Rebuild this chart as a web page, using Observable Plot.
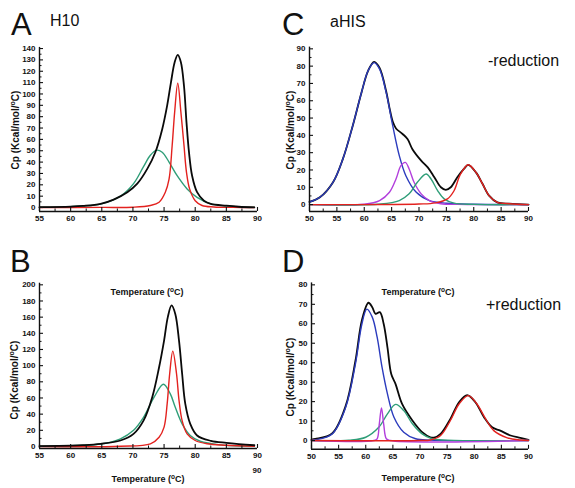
<!DOCTYPE html>
<html>
<head>
<meta charset="utf-8">
<script src="https://cdn.jsdelivr.net/npm/d3@7"></script>
<script src="https://cdn.jsdelivr.net/npm/@observablehq/plot@0.6"></script>
<style>
  html, body { margin: 0; padding: 0; background: #fff; }
  #wrap { position: relative; width: 575px; height: 488px; overflow: hidden; background: #fff; }
  #wrap svg { position: absolute; }
</style>
</head>
<body>
<div id="wrap"></div>
<script>
// ---------- DATA (Temperature °C, Cp kcal/mol/°C) ----------
// Panel A : H10
const A_total = [[55,0.3],[60,0.8],[62,1.4],[64.8,3.2],[66.9,7],[69.1,13.5],[70.7,21],[72.3,34],[73.6,48.7],[74.7,69],[75.5,90],[76.1,110],[76.7,128],[77.2,134.5],[77.7,128],[78.2,107],[78.6,75],[79.0,48.7],[79.5,28],[80.3,13.5],[81.4,6],[82.5,3.2],[85,1.6],[87,0.7],[89.5,0.2]];
const A_red   = [[55,0],[65,0.1],[70,0.3],[72.8,1.8],[74.2,4.7],[75.2,13.5],[75.8,25],[76.3,54.6],[76.7,84],[77.2,109.5],[77.7,84],[78.2,54.6],[78.6,31],[79.1,16.4],[80.0,6],[81.1,1.8],[83,0.5],[86,0.1],[89.5,0]];
const A_green = [[55,0.3],[60,0.8],[62,1.3],[64.8,3],[68,10],[70.1,21],[71.7,36],[72.8,46],[73.8,50.5],[74.7,48.7],[75.8,40],[77.1,28],[78.7,16.4],[80.3,9],[82.5,3.2],[85,1.3],[87,0.6],[89.5,0.3]];

// Panel B : H10
const B_total = [[55,0.5],[60,1],[62,1.6],[64.8,3.3],[68,7.4],[70.1,15.6],[71.7,32],[73.1,61],[74.2,98],[75,131],[75.6,160],[76.2,174.5],[76.8,164],[77.4,131],[77.9,90],[78.4,53],[79.2,28],[80.3,13.6],[82.5,7],[85,4.5],[87,3],[89.5,1.5]];
const B_red   = [[55,0],[68,0.3],[72.8,3.3],[74.2,11.5],[75,24],[75.5,53],[75.9,90],[76.4,118],[77,90],[77.4,57],[77.9,32],[78.7,15.6],[80,7.4],[81.9,3.3],[85,1.5],[89.5,0.3]];
const B_green = [[55,0.5],[60,1],[64.8,3],[68,9.5],[70.1,20],[71.7,36],[73.4,61],[74.9,77],[76,65],[76.8,48.5],[77.9,28],[79.2,13.6],[80.8,6.5],[84,2],[88,0.5],[89.5,0.3]];

// Panel C : aHIS, -reduction
const C_total   = [[50,1.5],[51.9,4.2],[54.3,12.9],[56.1,26.4],[57.9,45.6],[59.5,64.8],[60.7,77.3],[61.8,82.5],[62.8,79],[64,65.5],[64.6,56],[65.2,48],[65.8,44],[67,40.8],[67.9,37.9],[68.8,32],[70.4,25.4],[71.6,21.5],[72.8,15.8],[74,10],[74.9,8.5],[75.8,10],[77,15.8],[78.2,20.6],[79,23],[80.4,18.6],[81.6,12],[82.8,5.2],[84.3,1.3],[86.5,0.5],[90,0]];
const C_blue    = [[50,1.5],[51.9,4.2],[54.3,12.9],[56.1,26.4],[57.9,45.6],[59.5,64.8],[60.7,77.3],[61.8,82],[62.8,78.3],[64,64.8],[65.2,45.6],[66.4,28.3],[67.6,16.7],[69.5,7.1],[71.9,2.3],[75,0.8],[80,0.2],[90,0]];
const C_magenta = [[50,0],[60,0.2],[62.8,2.3],[64.6,7.1],[65.8,14.8],[66.7,22.5],[67.5,24.4],[68.2,20.6],[69.1,12.9],[70.4,6.2],[71.9,2.3],[74,0.5],[77,0.1],[90,0]];
const C_green   = [[50,0],[63,0.3],[66.4,2.3],[68.2,6.2],[69.7,12.9],[71.3,17.7],[72.2,14.8],[73.4,8.1],[74.6,3.3],[76.4,0.8],[80,0.1],[90,0]];
const C_red     = [[50,0],[70,0.3],[73,1],[75.2,3.3],[76.4,8],[77.6,17.7],[79,23],[80.4,18.6],[81.6,12],[82.8,5.2],[84.3,1.3],[86.5,0.5],[90,0]];

// Panel D : aHIS, +reduction
const D_total   = [[50,0.5],[50.7,0.8],[53.8,3.6],[56.3,17.8],[58.1,41],[59.3,62],[60.5,70.8],[61.2,68.5],[61.8,65.1],[62.6,66],[63.3,60],[64,47.9],[64.7,34.2],[65.5,29],[66.7,18.8],[68.6,10.3],[70.4,4.3],[71.9,1.7],[72.6,1.5],[73.8,3.4],[75.6,11.1],[77.2,19.7],[78.7,23.3],[80.2,19.7],[81.8,12],[83.3,6.8],[84.8,5.1],[86.7,2.6],[88.5,1.4],[90,0.4]];
const D_blue    = [[50,0.2],[50.7,0.4],[53.8,3.4],[56.3,17.1],[58.1,39.4],[59.3,60],[60.2,67.5],[61.2,63.4],[62.1,53.1],[63,37.7],[64,24],[65.2,12],[67,4.3],[69.2,0.9],[72,0.2],[90,0]];
const D_magenta = [[50,0],[61.5,0],[62.1,0.9],[62.5,8.6],[62.9,16.8],[63.3,8.6],[63.8,0.9],[64.5,0],[90,0]];
const D_green   = [[50,0],[56.9,0.2],[60,1.7],[62.4,6.8],[64,13.7],[65.5,18.6],[67,15.4],[68.6,8.6],[70.4,3.4],[72.2,0.9],[75,0.2],[90,0]];
const D_red     = [[50,0],[70,0],[71.9,0.3],[73.8,2.6],[75.6,10.3],[77.2,18.8],[78.9,23.1],[80.5,18.8],[82.1,11.1],[83.6,5.1],[86.1,1.4],[88.5,0.3],[90,0]];

// ---------- TICKS ----------
const xTicksAB = [55,60,65,70,75,80,85,90];
const xTicksCD = [50,55,60,65,70,75,80,85,90];
const yTicksA = [0,10,20,30,40,50,60,70,80,90,100,110,120,130,140];
const yTicksB = [0,20,40,60,80,100,120,140,160,180,200];
const yTicksC = [0,10,20,30,40,50,60,70,80,90];
const yTicksD = [0,10,20,30,40,50,60,70,80];

// ---------- COLORS ----------
const COL = {black: "#0a0a0a", red: "#e3221f", green: "#2f9e78", blue: "#2b3bbd", magenta: "#b23fdc"};

const FONT = "'Liberation Sans', Arial, Helvetica, sans-serif";

function minor(ticks) {
  const step = ticks[1] - ticks[0];
  return ticks.slice(0, -1).map(t => t + step / 2);
}

function panel(cfg) {
  const {left, top, width, height, mL, mR, mT, mB, xDomain, yDomain, xTicks, yTicks, series} = cfg;
  const fW = width - mL - mR, fH = height - mT - mB;
  const marks = [];
  for (const s of series) {
    marks.push(Plot.line(s.data, {x: d => d[0], y: d => d[1], stroke: s.color, strokeWidth: s.w || 1.4, curve: "catmull-rom"}));
  }
  const axisStroke = "#111";
  marks.push(
    Plot.ruleX([xDomain[0]], {stroke: axisStroke, strokeWidth: 1.4}),
    Plot.ruleY([yDomain[0]], {stroke: axisStroke, strokeWidth: 1.4}),
    Plot.tickX(xTicks, {x: d => d, insetTop: fH - 4, stroke: axisStroke, strokeWidth: 1.1}),
    Plot.tickX(minor(xTicks), {x: d => d, insetTop: fH - 2.5, stroke: axisStroke, strokeWidth: 1}),
    Plot.tickY(yTicks, {y: d => d, insetRight: fW - 4, stroke: axisStroke, strokeWidth: 1.1}),
    Plot.tickY(minor(yTicks), {y: d => d, insetRight: fW - 2.5, stroke: axisStroke, strokeWidth: 1}),
    Plot.axisX({ticks: xTicks, tickSize: 0, tickPadding: 4, label: null, fontWeight: "bold", fill: "#111"}),
    Plot.axisY({ticks: yTicks, tickSize: 0, tickPadding: 4, label: null, fontWeight: "bold", fill: "#111"})
  );
  const svg = Plot.plot({
    width, height,
    marginLeft: mL, marginRight: mR, marginTop: mT, marginBottom: mB,
    x: {domain: xDomain},
    y: {domain: yDomain},
    style: {fontFamily: FONT, fontSize: "8px", background: "transparent", overflow: "visible"},
    marks
  });
  svg.style.left = left + "px";
  svg.style.top = top + "px";
  document.getElementById("wrap").appendChild(svg);
}

panel({left: 0, top: 0, width: 290, height: 240, mL: 39, mR: 33, mT: 46.9, mB: 29,
  xDomain: [55, 90], yDomain: [-3.5, 141], xTicks: xTicksAB, yTicks: yTicksA,
  series: [
    {data: A_green, color: COL.green},
    {data: A_red, color: COL.red},
    {data: A_total, color: COL.black, w: 1.8}
  ]});

panel({left: 0, top: 240, width: 290, height: 248, mL: 39, mR: 33, mT: 42.7, mB: 40,
  xDomain: [55, 90], yDomain: [-2.5, 202], xTicks: xTicksAB, yTicks: yTicksB,
  series: [
    {data: B_green, color: COL.green},
    {data: B_red, color: COL.red},
    {data: B_total, color: COL.black, w: 1.8}
  ]});

panel({left: 285, top: 0, width: 290, height: 240, mL: 24, mR: 47, mT: 46.6, mB: 29,
  xDomain: [50, 90], yDomain: [-4, 91], xTicks: xTicksCD, yTicks: yTicksC,
  series: [
    {data: C_total, color: COL.black, w: 1.8},
    {data: C_blue, color: COL.blue},
    {data: C_magenta, color: COL.magenta},
    {data: C_green, color: COL.green},
    {data: C_red, color: COL.red}
  ]});

panel({left: 285, top: 240, width: 290, height: 248, mL: 26, mR: 47, mT: 42.4, mB: 39.2,
  xDomain: [50, 90], yDomain: [-4.5, 81], xTicks: xTicksCD, yTicks: yTicksD,
  series: [
    {data: D_total, color: COL.black, w: 1.8},
    {data: D_blue, color: COL.blue},
    {data: D_green, color: COL.green},
    {data: D_magenta, color: COL.magenta},
    {data: D_red, color: COL.red}
  ]});

// ---------- TEXT OVERLAY ----------
const ov = d3.select("#wrap").append("svg")
  .attr("width", 575).attr("height", 488)
  .style("left", "0px").style("top", "0px")
  .style("font-family", FONT);

function plain(x, y, str, size) {
  ov.append("text").attr("x", x).attr("y", y).attr("font-size", size).attr("fill", "#111").text(str);
}
plain(11, 35, "A", 31);
plain(50, 26, "H10", 16);
plain(282, 35, "C", 31);
plain(330, 27, "aHIS", 16);
plain(488, 66, "-reduction", 16);
plain(10, 272, "B", 31);
plain(282, 272, "D", 31);
plain(486, 310, "+reduction", 16);

function tempLabel(cx, y) {
  const t = ov.append("text").attr("x", cx).attr("y", y).attr("text-anchor", "middle")
    .attr("font-size", 9).attr("font-weight", "bold").attr("fill", "#111");
  t.append("tspan").text("Temperature (");
  t.append("tspan").attr("font-size", 6.5).attr("dy", -3.5).text("o");
  t.append("tspan").attr("dy", 3.5).text("C)");
}
tempLabel(147, 295);
tempLabel(148, 482);
tempLabel(418, 295);
tempLabel(418, 481);

function cpLabel(cx, cy) {
  const t = ov.append("text").attr("transform", `translate(${cx},${cy}) rotate(-90)`)
    .attr("text-anchor", "middle").attr("dominant-baseline", "central")
    .attr("font-size", 10).attr("font-weight", "bold").attr("fill", "#111");
  t.append("tspan").text("Cp (Kcal/mol/");
  t.append("tspan").attr("font-size", 7).attr("dy", -3.5).text("o");
  t.append("tspan").attr("dy", 3.5).text("C)");
}
cpLabel(15, 130);
cpLabel(290, 130);
cpLabel(14, 380);
cpLabel(290, 377);

// stray "90" under panel B axis
ov.append("text").attr("x", 257).attr("y", 473).attr("text-anchor", "middle")
  .attr("font-size", 8).attr("font-weight", "bold").attr("fill", "#111").text("90");
</script>
</body>
</html>
